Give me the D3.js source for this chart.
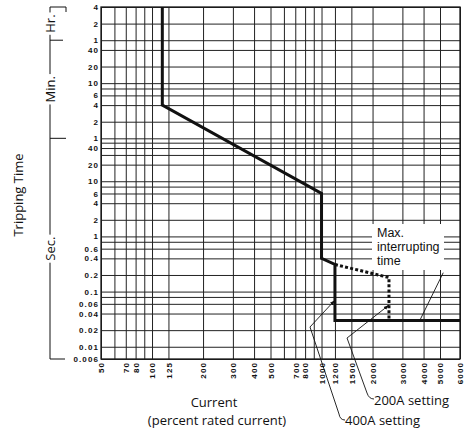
<!DOCTYPE html>
<html><head><meta charset="utf-8">
<script src="https://cdn.jsdelivr.net/npm/d3@7"></script>
<style>
html,body{margin:0;padding:0;background:#fff;}
svg{display:block;}
.tick-lbl{font-family:"Liberation Sans",Arial,sans-serif;font-weight:bold;font-size:8px;letter-spacing:1.1px;fill:#111;}
.ttl{font-family:"Open Sans",sans-serif;font-size:13px;fill:#111;}
.note{font-family:"Liberation Sans",Arial,sans-serif;font-size:12.5px;fill:#111;}
</style></head>
<body>
<svg id="c" width="470" height="432"></svg>
<script>
// ---- data ----
const currentTicks = [50,70,80,100,125,200,300,400,500,700,800,1000,1200,1500,2000,3000,4000,5000,6000];
const currentGrid  = [50,60,70,80,90,100,125,200,300,400,500,600,700,800,900,1000,1200,1500,2000,3000,4000,5000,6000];
const timeTickValues = [14400,7200,3600,2400,1200,600,360,240,120,60,40,20,10,6,4,2,1,0.6,0.4,0.2,0.1,0.06,0.04,0.02,0.01,0.006];
const timeTickLabels = ["4","2","1","40","20","10","6","4","2","1","40","20","10","6","4","2","1","0.6","0.4","0.2","0.1","0.06","0.04","0.02","0.01","0.006"];
const timeGrid = [14400,7200,3600,2400,1200,600,480,360,240,120,60,50,40,30,20,10,8,6,4,2,1,0.8,0.6,0.4,0.2,0.1,0.08,0.06,0.04,0.02,0.01,0.006];
const tripCurrent = [115,115,1000,1000,1200,1200,6000];
const tripTime    = [14400,240,6,0.4,0.31,0.03,0.03];
const maxCurrent  = [1200,2500,2500];
const maxTime     = [0.31,0.18,0.03];
// annotation anchors (data units)
const ann400 = {tip:[1200,0.07], kink:[855,0.0228]};
const ann200 = {tip:[2500,0.057], kink:[1414,0.0144]};
const annMax = {tip:[3800,0.03], end:[5150,0.22]};

// ---- layout ----
const L=101, R=460, T=7, B=359;
const svg = d3.select("#c");
const x = d3.scaleLog().domain([50,5000,6000]).range([L,440,R]);
const y = d3.scaleLog().domain([0.006,14400]).range([B,T]);

// grid
const gx = svg.append("g").attr("transform",`translate(0,${B})`)
  .call(d3.axisBottom(x).tickValues(currentGrid).tickSize(-(B-T)).tickFormat(""));
const gy = svg.append("g").attr("transform",`translate(${L},0)`)
  .call(d3.axisLeft(y).tickValues(timeGrid).tickSize(-(R-L)).tickFormat(""));
[gx,gy].forEach(g=>{g.select(".domain").remove();
  g.selectAll(".tick line").attr("stroke","#222").attr("stroke-width",1);});

// frame
svg.append("rect").attr("x",L).attr("y",T).attr("width",R-L).attr("height",B-T)
  .attr("fill","none").attr("stroke","#1a1a1a").attr("stroke-width",1.3);

// y labels
const ay = svg.append("g").attr("transform",`translate(${L},0)`)
  .call(d3.axisLeft(y).tickValues(timeTickValues).tickSize(0).tickPadding(2)
    .tickFormat((d,i)=>timeTickLabels[i]));
ay.select(".domain").remove();
ay.selectAll("text").attr("class","tick-lbl").attr("font-size",null).attr("font-family",null);

// x labels
const ax = svg.append("g").attr("transform",`translate(0,${B})`)
  .call(d3.axisBottom(x).tickValues(currentTicks).tickSize(0).tickFormat(d3.format("d")));
ax.select(".domain").remove();
ax.selectAll("text").attr("class","tick-lbl").attr("font-size",null).attr("font-family",null)
  .attr("text-anchor","end").attr("transform","rotate(-90)")
  .attr("x",-3).attr("y",0).attr("dy","0.35em");

// curves
const line = d3.line().x(d=>x(d[0])).y(d=>y(d[1]));
svg.append("path").datum(tripCurrent.map((c,i)=>[c,tripTime[i]]))
  .attr("d",line).attr("fill","none").attr("stroke","#111").attr("stroke-width",3)
  .attr("stroke-linejoin","miter");
svg.append("path").datum(maxCurrent.map((c,i)=>[c,maxTime[i]]))
  .attr("d",line).attr("fill","none").attr("stroke","#111").attr("stroke-width",3)
  .attr("stroke-dasharray","3,2.2");

// arrow marker
svg.append("defs").append("marker").attr("id","ar").attr("viewBox","0 0 10 10")
  .attr("refX",10).attr("refY",5).attr("markerWidth",6).attr("markerHeight",6)
  .attr("orient","auto-start-reverse").append("path").attr("d","M0,1.5 L10,5 L0,8.5 Z").attr("fill","#111");

function P(p){return [x(p[0]),y(p[1])];}
// 400A leader
{const t=P(ann400.tip), k=P(ann400.kink);
 svg.append("path").attr("d",`M${k[0]},${k[1]} L${t[0]},${t[1]}`).attr("stroke","#111").attr("stroke-width",0.9).attr("fill","none").attr("marker-end","url(#ar)");
 svg.append("path").attr("d",`M${k[0]},${k[1]} L339,414 Q340,420 345,420`).attr("stroke","#111").attr("stroke-width",0.9).attr("fill","none");
 svg.append("text").attr("class","ttl").attr("x",345).attr("y",425).text("400A setting");}
// 200A leader
{const t=P(ann200.tip), k=P(ann200.kink);
 svg.append("path").attr("d",`M${k[0]},${k[1]} L${t[0]},${t[1]}`).attr("stroke","#111").attr("stroke-width",0.9).attr("fill","none").attr("marker-end","url(#ar)");
 svg.append("path").attr("d",`M${k[0]},${k[1]} L367,393 Q369,399 374,399`).attr("stroke","#111").attr("stroke-width",0.9).attr("fill","none");
 svg.append("text").attr("class","ttl").attr("x",374).attr("y",405).text("200A setting");}
// Max interrupting time
{const t=P(annMax.tip), e=P(annMax.end);
 svg.append("rect").attr("x",372).attr("y",224).attr("width",72).attr("height",46).attr("fill","#fff");
 svg.append("path").attr("d",`M${t[0]},${t[1]} L${e[0]},${e[1]}`).attr("stroke","#111").attr("stroke-width",0.9);
 [["Max.",237],["interrupting",251],["time",265]].forEach(([s,yy])=>
   svg.append("text").attr("class","note").attr("x",377).attr("y",yy).text(s));}

// axis titles
svg.append("text").attr("class","ttl").attr("text-anchor","middle")
  .attr("transform","translate(23,195) rotate(-90)").text("Tripping Time");
svg.append("text").attr("class","ttl").attr("text-anchor","middle").attr("x",214).attr("y",407).text("Current");
svg.append("text").attr("class","ttl").attr("text-anchor","middle").attr("x",217).attr("y",425).text("(percent rated current)");

// unit bracket
const bx=50;
const br = svg.append("g").attr("stroke","#111").attr("stroke-width",1).attr("fill","none");
br.append("path").attr("d",`M${bx},${T} V${B} H65 M${bx},${T} H66 V12 M${bx},${y(3600)} H63 M${bx},${y(60)} H66`);
const units=[["Hr.",y(14400),y(3600)],["Min.",y(3600),y(60)],["Sec.",y(60),y(0.006)]];
units.forEach(([s,a,b])=>{
  const m=(a+b)/2;
  const g=svg.append("g").attr("transform",`translate(${bx+5},${m}) rotate(-90)`);
  const t=g.append("text").attr("class","ttl").attr("text-anchor","middle").text(s);
  const bb=t.node().getBBox();
  g.insert("rect","text").attr("x",bb.x-2).attr("y",bb.y).attr("width",bb.width+4).attr("height",bb.height).attr("fill","#fff");
});
</script>
</body></html>
